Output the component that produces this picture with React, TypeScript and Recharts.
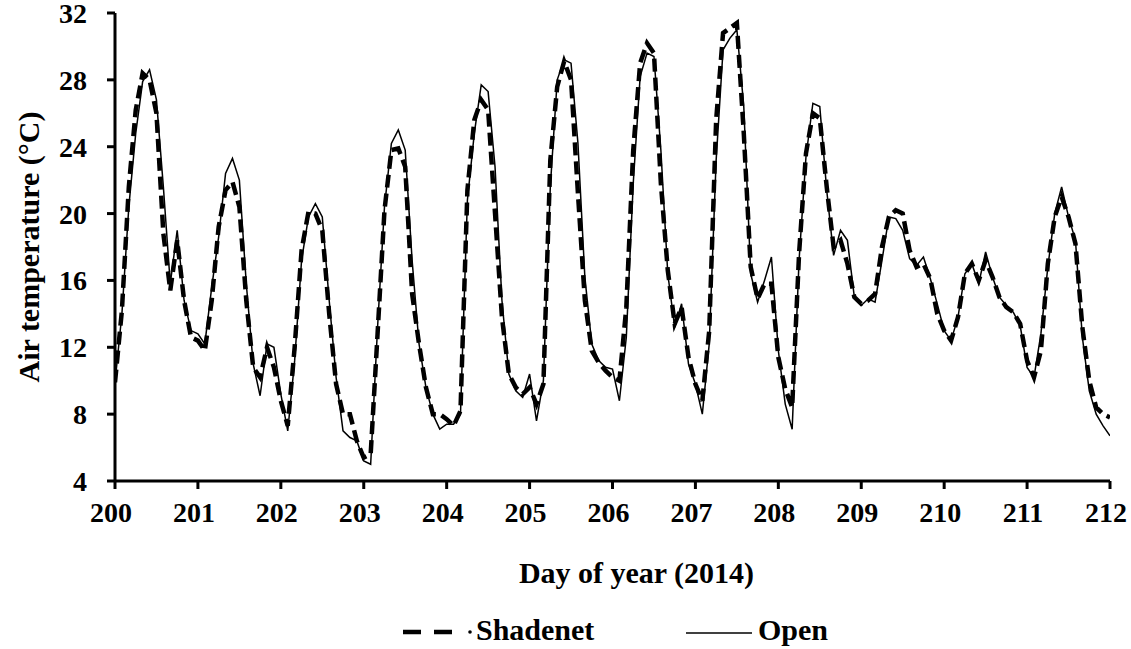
import { Line, LineChart, XAxis, YAxis } from 'recharts'

const FONT = '"Liberation Serif", "Times New Roman", serif'

// two-hourly readings, day 200.00 to 212.00
const START_DAY = 200
const STEP_DAYS = 2 / 24

const dayTicks = [200, 201, 202, 203, 204, 205, 206, 207, 208, 209, 210, 211, 212]
const tempTicks = [4, 8, 12, 16, 20, 24, 28, 32]

const shadenet = [
  9.9, 14.2, 21.6, 26.2, 28.4, 28.0, 26.0, 18.8, 15.4, 18.4, 14.8, 12.6, // 200
  12.4, 11.8, 14.8, 19.2, 21.4, 21.9, 20.4, 14.8, 10.8, 10.2, 12.0, 10.8, // 201
  8.8, 7.3, 12.0, 17.8, 20.1, 20.0, 19.0, 14.0, 9.8, 8.0, 8.0, 6.4, // 202
  5.4, 5.6, 12.8, 20.2, 23.8, 23.9, 22.8, 15.2, 12.2, 9.6, 8.0, 8.0, // 203
  7.7, 7.3, 8.2, 21.4, 25.6, 26.8, 26.2, 20.0, 13.8, 10.4, 9.6, 9.2, // 204
  9.6, 8.6, 9.8, 23.2, 27.6, 29.1, 28.0, 21.2, 14.8, 11.8, 11.1, 10.6, // 205
  10.2, 10.0, 14.4, 23.8, 29.0, 30.2, 29.6, 21.8, 16.6, 13.4, 14.4, 11.4, // 206
  9.8, 8.8, 13.0, 25.6, 30.8, 31.1, 31.4, 24.8, 16.8, 14.9, 15.8, 15.8, // 207
  11.4, 9.5, 8.4, 17.6, 23.6, 26.0, 25.7, 21.6, 18.0, 18.4, 17.0, 15.0, // 208
  14.6, 14.8, 15.2, 18.0, 19.8, 20.2, 20.0, 17.8, 16.8, 17.0, 16.1, 14.0, // 209
  13.0, 12.4, 13.8, 16.4, 17.0, 16.0, 17.2, 16.2, 15.0, 14.4, 14.1, 13.4, // 210
  11.2, 10.2, 11.8, 17.0, 19.8, 21.0, 19.8, 18.2, 13.2, 10.0, 8.4, 8.0, // 211
  7.8,
]

const open = [
  9.9, 14.0, 20.4, 24.8, 27.9, 28.6, 26.8, 21.6, 15.8, 19.0, 14.8, 13.0, // 200
  12.8, 12.2, 15.6, 18.6, 22.4, 23.3, 22.0, 15.8, 11.0, 9.1, 12.2, 12.0, // 201
  9.2, 7.0, 11.2, 17.2, 19.8, 20.6, 19.8, 14.8, 10.2, 7.0, 6.6, 6.4, // 202
  5.2, 5.0, 13.2, 20.4, 24.2, 25.0, 23.8, 17.2, 12.2, 9.6, 8.0, 7.1, // 203
  7.4, 7.4, 8.0, 20.8, 24.8, 27.7, 27.3, 22.8, 14.8, 10.4, 9.4, 9.0, // 204
  10.4, 7.6, 10.0, 21.6, 28.0, 29.2, 29.0, 24.2, 16.2, 12.2, 11.2, 10.8, // 205
  10.7, 8.8, 12.6, 21.8, 28.2, 29.6, 29.4, 23.8, 16.4, 13.2, 14.6, 11.0, // 206
  9.8, 8.0, 12.2, 23.2, 29.8, 30.5, 31.0, 26.4, 16.4, 14.7, 16.0, 17.4, // 207
  11.8, 8.6, 7.1, 17.2, 23.4, 26.6, 26.4, 21.4, 17.5, 19.0, 18.4, 15.0, // 208
  14.5, 14.9, 14.7, 17.2, 19.8, 19.7, 19.0, 17.3, 16.9, 17.4, 16.1, 14.6, // 209
  13.0, 12.4, 13.8, 16.4, 17.0, 15.8, 17.7, 16.2, 15.0, 14.5, 14.1, 13.3, // 210
  10.8, 10.2, 12.8, 16.8, 20.0, 21.6, 19.8, 18.4, 12.6, 9.4, 8.0, 7.3, // 211
  6.7,
]

const data = open.map((o, i) => ({
  day: START_DAY + i * STEP_DAYS,
  shadenet: shadenet[i],
  open: o,
}))

const tickStyle = { fill: '#000', fontSize: 28, fontWeight: 700, fontFamily: FONT }

function XTitle({ viewBox }: any) {
  const cx = viewBox.x + viewBox.width / 2 + 24
  return (
    <text x={cx} y={583} textAnchor="middle" fontSize={30} fontWeight={700} fontFamily={FONT} fill="#000">
      Day of year (2014)
    </text>
  )
}

function YTitle({ viewBox }: any) {
  const cy = viewBox.y + viewBox.height / 2
  return (
    <text
      x={28}
      y={cy}
      transform={`rotate(-90, 28, ${cy})`}
      textAnchor="middle"
      dominantBaseline="central"
      fontSize={30}
      fontWeight={700}
      fontFamily={FONT}
      fill="#000"
    >
      Air temperature (°C)
    </text>
  )
}

function ChartLegend() {
  const text = { fontSize: 30, fontWeight: 700, fontFamily: FONT, fill: '#000' }
  return (
    <svg width={1131} height={649} style={{ position: 'absolute', left: 0, top: 0, pointerEvents: 'none' }}>
      <line x1={403} y1={632} x2={453} y2={632} stroke="#000" strokeWidth={4.5} strokeDasharray="18 13" />
      <circle cx={470} cy={632} r={1.8} fill="#000" />
      <text x={476} y={640} {...text}>Shadenet</text>
      <line x1={686} y1={633} x2={752} y2={633} stroke="#000" strokeWidth={1.5} />
      <text x={758} y={640} {...text}>Open</text>
    </svg>
  )
}

export default function App() {
  return (
    <div style={{ position: 'absolute', left: 0, top: 0, width: 1131, height: 649, background: '#fff' }}>
      <LineChart width={1131} height={649} data={data} margin={{ top: 13, right: 21, left: 0, bottom: 58 }}>
        <XAxis
          dataKey="day"
          type="number"
          domain={[200, 212]}
          ticks={dayTicks}
          interval={0}
          allowDataOverflow
          height={110}
          axisLine={{ stroke: '#000', strokeWidth: 3 }}
          tickLine={{ stroke: '#000', strokeWidth: 3 }}
          tickSize={8}
          tickMargin={13}
          tick={{ ...tickStyle, dx: -4 }}
          label={<XTitle />}
        />
        <YAxis
          type="number"
          domain={[4, 32]}
          ticks={tempTicks}
          interval={0}
          allowDataOverflow
          width={115}
          axisLine={{ stroke: '#000', strokeWidth: 3 }}
          tickLine={{ stroke: '#000', strokeWidth: 3 }}
          tickSize={8}
          tickMargin={20}
          tick={tickStyle}
          label={<YTitle />}
        />
        <Line
          type="linear"
          dataKey="open"
          name="Open"
          stroke="#000"
          strokeWidth={1.5}
          dot={false}
          isAnimationActive={false}
        />
        <Line
          type="linear"
          dataKey="shadenet"
          name="Shadenet"
          stroke="#000"
          strokeWidth={4.5}
          strokeDasharray="13 6"
          dot={false}
          isAnimationActive={false}
        />
      </LineChart>
      <ChartLegend />
    </div>
  )
}
